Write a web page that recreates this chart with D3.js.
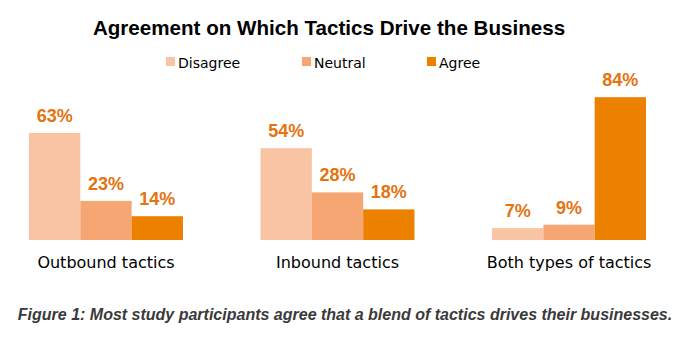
<!DOCTYPE html>
<html>
<head>
<meta charset="utf-8">
<script src="https://cdn.jsdelivr.net/npm/d3@7"></script>
<style>
  body { margin: 0; background: #fff; }
  svg { display: block; }
</style>
</head>
<body>
<svg id="chart" width="691" height="345"></svg>
<script>
const categories = ["Outbound tactics", "Inbound tactics", "Both types of tactics"];
const seriesNames = ["Disagree", "Neutral", "Agree"];
const disagree = [63, 54, 7];
const neutral = [23, 28, 9];
const agree = [14, 18, 84];
const colors = ["#F9C4A3", "#F6A673", "#EC8100"];

const svg = d3.select("#chart");

const x0 = d3.scaleBand().domain(categories).range([29, 646]).paddingInner(0.335).paddingOuter(0);
const x1 = d3.scaleBand().domain(seriesNames).range([0, x0.bandwidth()]).padding(0);
const y = d3.scaleLinear().domain([0, 100]).range([240, 70]);
const color = d3.scaleOrdinal().domain(seriesNames).range(colors);

const rows = categories.map((c, i) => ({
    category: c,
    values: [
        { name: "Disagree", value: disagree[i] },
        { name: "Neutral", value: neutral[i] },
        { name: "Agree", value: agree[i] }
    ]
}));

// title
svg.append("text")
    .attr("x", 329)
    .attr("y", 35)
    .attr("text-anchor", "middle")
    .attr("font-family", "Liberation Sans, Arial, sans-serif")
    .attr("font-weight", "bold")
    .attr("font-size", 20.6)
    .attr("fill", "#000")
    .text("Agreement on Which Tactics Drive the Business");

// legend
const legendX = [166, 302, 427];
const legend = svg.selectAll("g.legend")
    .data(seriesNames)
    .enter().append("g")
    .attr("class", "legend")
    .attr("transform", (d, i) => `translate(${legendX[i]},0)`);
legend.append("rect")
    .attr("x", 0)
    .attr("y", 57)
    .attr("width", 9)
    .attr("height", 9)
    .attr("fill", d => color(d));
legend.append("text")
    .attr("x", 12)
    .attr("y", 68)
    .attr("font-family", "DejaVu Sans, Verdana, sans-serif")
    .attr("font-size", 14)
    .attr("fill", "#000")
    .text(d => d);

// bars
const groups = svg.selectAll("g.group")
    .data(rows)
    .enter().append("g")
    .attr("class", "group")
    .attr("transform", d => `translate(${x0(d.category)},0)`);

groups.selectAll("rect")
    .data(d => d.values)
    .enter().append("rect")
    .attr("x", d => x1(d.name))
    .attr("y", d => y(d.value))
    .attr("width", x1.bandwidth())
    .attr("height", d => y(0) - y(d.value))
    .attr("fill", d => color(d.name));

groups.selectAll("text.val")
    .data(d => d.values)
    .enter().append("text")
    .attr("class", "val")
    .attr("x", d => x1(d.name) + x1.bandwidth() / 2)
    .attr("y", d => y(d.value) - 11)
    .attr("text-anchor", "middle")
    .attr("font-family", "Liberation Sans, Arial, sans-serif")
    .attr("font-weight", "bold")
    .attr("font-size", 18)
    .attr("fill", "#E5730F")
    .text(d => d.value + "%");

// category labels
groups.append("text")
    .attr("x", x0.bandwidth() / 2)
    .attr("y", 268)
    .attr("text-anchor", "middle")
    .attr("font-family", "DejaVu Sans, Verdana, sans-serif")
    .attr("font-size", 16)
    .attr("fill", "#000")
    .text(d => d.category);

// caption
svg.append("text")
    .attr("x", 345)
    .attr("y", 320)
    .attr("text-anchor", "middle")
    .attr("font-family", "Liberation Sans, Arial, sans-serif")
    .attr("font-weight", "bold")
    .attr("font-style", "italic")
    .attr("font-size", 16)
    .attr("fill", "#3A3A3A")
    .text("Figure 1: Most study participants agree that a blend of tactics drives their businesses.");
</script>
</body>
</html>
